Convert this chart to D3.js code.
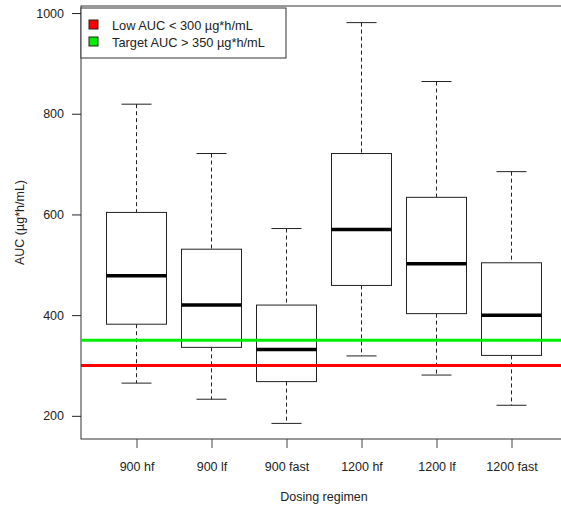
<!DOCTYPE html>
<html lang="en">
<head>
    <meta charset="UTF-8">
    <title>AUC by dosing regimen</title>
    <script src="https://d3js.org/d3.v7.min.js"></script>
    <style>
        body {
            margin: 0;
            background-color: white;
            font-family: "Liberation Sans", Arial, Helvetica, sans-serif;
        }
        .tick text {
            font-size: 12.5px;
            fill: #222;
        }
        .axis-title {
            font-size: 12.5px;
            fill: #222;
        }
        .legend-text {
            font-size: 12.8px;
            fill: #222;
        }
    </style>
</head>
<body>
    <div id="chart"></div>

    <script>
        // Data
        const regimens = ["900 hf", "900 lf", "900 fast", "1200 hf", "1200 lf", "1200 fast"];
        const whiskerLow = [265, 233, 185, 319, 281, 221];
        const q1 = [382, 336, 268, 459, 403, 320];
        const medians = [478, 420, 332, 570, 502, 400];
        const q3 = [604, 531, 420, 721, 634, 504];
        const whiskerHigh = [819, 721, 572, 981, 864, 685];
        const yTicks = [200, 400, 600, 800, 1000];
        const refLines = [
            {value: 300, color: "#ff0000", label: "Low AUC < 300 \u00b5g*h/mL"},
            {value: 350, color: "#00ee00", label: "Target AUC > 350 \u00b5g*h/mL"}
        ];

        const boxes = regimens.map((name, i) => ({
            name: name,
            pos: i + 1,
            lo: whiskerLow[i],
            q1: q1[i],
            med: medians[i],
            q3: q3[i],
            hi: whiskerHigh[i]
        }));

        const width = 561, height = 508;
        const plot = {left: 81, top: 6, right: 567, bottom: 439};

        const svg = d3.select("#chart")
            .append("svg")
            .attr("width", width)
            .attr("height", height);

        // Scales (R style: xlim 0.5..n+0.5 widened by 4%)
        const x = d3.scaleLinear()
            .domain([0.26, 6.74])
            .range([plot.left, plot.right]);
        const y = d3.scaleLinear()
            .domain([154, 1014])
            .range([plot.bottom, plot.top]);

        const unit = x(2) - x(1);
        const boxW = unit * 0.8;
        const capW = unit * 0.4;

        // Frame
        svg.append("rect")
            .attr("x", plot.left)
            .attr("y", plot.top)
            .attr("width", plot.right - plot.left)
            .attr("height", plot.bottom - plot.top)
            .attr("fill", "none")
            .attr("stroke", "#333")
            .attr("stroke-width", 1);

        // Y axis
        const yAxis = d3.axisLeft(y)
            .tickValues(yTicks)
            .tickFormat(d3.format("d"))
            .tickSize(9)
            .tickPadding(8)
            .tickSizeOuter(0);
        const gy = svg.append("g")
            .attr("transform", `translate(${plot.left},0)`)
            .call(yAxis);
        gy.select(".domain").remove();
        gy.selectAll(".tick line").attr("stroke", "#222");

        // X axis
        const xAxis = d3.axisBottom(x)
            .tickValues(boxes.map(d => d.pos))
            .tickFormat((d, i) => regimens[i])
            .tickSize(9)
            .tickPadding(14)
            .tickSizeOuter(0);
        const gx = svg.append("g")
            .attr("transform", `translate(0,${plot.bottom})`)
            .call(xAxis);
        gx.select(".domain").remove();
        gx.selectAll(".tick line").attr("stroke", "#444");

        // Axis titles
        svg.append("text")
            .attr("class", "axis-title")
            .attr("text-anchor", "middle")
            .attr("transform", `translate(24,${(plot.top + plot.bottom) / 2}) rotate(-90)`)
            .text("AUC (\u00b5g*h/mL)");

        svg.append("text")
            .attr("class", "axis-title")
            .attr("text-anchor", "middle")
            .attr("x", (plot.left + plot.right) / 2)
            .attr("y", 501)
            .text("Dosing regimen");

        // Boxplots
        const g = svg.selectAll(".box")
            .data(boxes)
            .enter()
            .append("g")
            .attr("class", "box");

        // dashed whiskers
        g.append("line")
            .attr("x1", d => x(d.pos)).attr("x2", d => x(d.pos))
            .attr("y1", d => y(d.hi)).attr("y2", d => y(d.q3))
            .attr("stroke", "#222").attr("stroke-dasharray", "4,3");
        g.append("line")
            .attr("x1", d => x(d.pos)).attr("x2", d => x(d.pos))
            .attr("y1", d => y(d.q1)).attr("y2", d => y(d.lo))
            .attr("stroke", "#222").attr("stroke-dasharray", "4,3");

        // caps
        g.append("line")
            .attr("x1", d => x(d.pos) - capW / 2).attr("x2", d => x(d.pos) + capW / 2)
            .attr("y1", d => y(d.hi)).attr("y2", d => y(d.hi))
            .attr("stroke", "#222");
        g.append("line")
            .attr("x1", d => x(d.pos) - capW / 2).attr("x2", d => x(d.pos) + capW / 2)
            .attr("y1", d => y(d.lo)).attr("y2", d => y(d.lo))
            .attr("stroke", "#222");

        // box
        g.append("rect")
            .attr("x", d => x(d.pos) - boxW / 2)
            .attr("y", d => y(d.q3))
            .attr("width", boxW)
            .attr("height", d => y(d.q1) - y(d.q3))
            .attr("fill", "white")
            .attr("stroke", "#222");

        // median
        g.append("line")
            .attr("x1", d => x(d.pos) - boxW / 2).attr("x2", d => x(d.pos) + boxW / 2)
            .attr("y1", d => y(d.med)).attr("y2", d => y(d.med))
            .attr("stroke", "black")
            .attr("stroke-width", 3.5);

        // Reference lines
        svg.selectAll(".ref")
            .data(refLines)
            .enter()
            .append("line")
            .attr("class", "ref")
            .attr("x1", plot.left).attr("x2", width)
            .attr("y1", d => y(d.value)).attr("y2", d => y(d.value))
            .attr("stroke", d => d.color)
            .attr("stroke-width", 3);

        // Legend
        const legend = svg.append("g");
        legend.append("rect")
            .attr("x", plot.left)
            .attr("y", 8)
            .attr("width", 205)
            .attr("height", 50)
            .attr("fill", "white")
            .attr("stroke", "#333");

        const items = legend.selectAll(".legend-item")
            .data(refLines)
            .enter()
            .append("g")
            .attr("transform", (d, i) => `translate(0,${i * 17})`);

        items.append("rect")
            .attr("x", 89)
            .attr("y", 20)
            .attr("width", 9)
            .attr("height", 9)
            .attr("fill", d => d.color)
            .attr("stroke", "#222");

        items.append("text")
            .attr("class", "legend-text")
            .attr("x", 112)
            .attr("y", 29.5)
            .text(d => d.label);
    </script>
</body>
</html>
